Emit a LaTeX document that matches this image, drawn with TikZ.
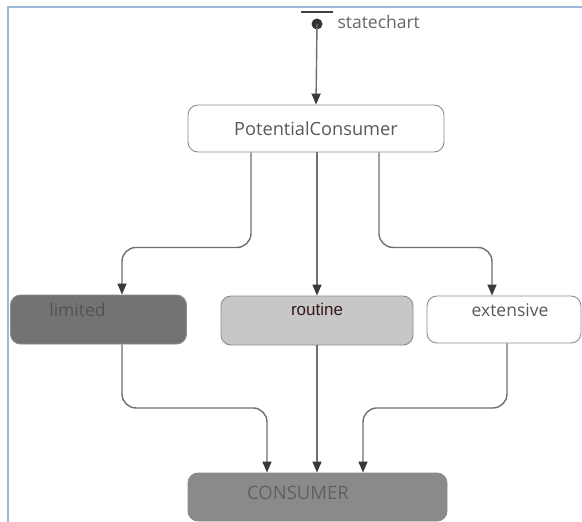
\documentclass[tikz,border=0pt]{standalone}
\usepackage{fontspec}
\setmainfont{Open Sans}
\newfontfamily\arialfont{Liberation Sans}
\usetikzlibrary{arrows.meta}
\definecolor{frameblue}{HTML}{9DB9DA}
\definecolor{linegray}{HTML}{6F6F6F}
\definecolor{tipgray}{HTML}{3A3A3A}
\definecolor{boxedge}{HTML}{8C8C8C}
\tikzset{
  state/.style={draw=boxedge, line width=0.9pt, rounded corners=10pt, inner sep=0pt},
  conn/.style={draw=linegray, line width=1.4pt, rounded corners=14pt,
    -{Triangle[length=11pt,width=9pt,fill=tipgray,color=tipgray]}},
  lbl/.style={font=\fontsize{17.5}{21}\selectfont, text=#1},
}
\begin{document}
\begin{tikzpicture}[x=1pt,y=-1pt]
  \useasboundingbox (0,0) rectangle (582,522);
  \fill[white] (0,0) rectangle (582,522);
  % window frame
  \draw[frameblue, line width=2pt] (8,523) -- (8,7) -- (583,7);

  % initial pseudostate
  \draw[black!75, line width=2.2pt] (301,12) -- (333,12);
  \fill[black!80] (317,24) circle (5.5);
  \node[coordinate] (init) at (317,24) {};
  \node[lbl=black!60, anchor=west] (chartname) at (334,22) {statechart};

  % states
  \node[state, fill=white, minimum width=256pt, minimum height=47pt,
        lbl=black!65, font=\fontsize{18.2}{22}\selectfont] (pc) at (316,128.5) {PotentialConsumer};
  \node[state, fill=black!55, minimum width=176pt, minimum height=49pt,
        label={[lbl=black!68, xshift=-21pt, yshift=10pt]center:limited}] (lim) at (98.5,319.5) {};
  \node[state, fill=black!22, minimum width=192pt, minimum height=49pt,
        label={[font=\arialfont\fontsize{17}{20}\selectfont, text={rgb,255:red,55;green,25;blue,25}, yshift=11.5pt]center:routine}] (rou) at (317,320.5) {};
  \node[state, fill=white, minimum width=154pt, minimum height=47pt,
        label={[lbl=black!65, xshift=6pt, yshift=9.5pt]center:extensive}] (ext) at (504,319.5) {};
  \node[state, fill=black!46, minimum width=259pt, minimum height=48pt,
        label={[lbl=black!62, font=\fontsize{18.5}{22}\selectfont, xshift=-19.5pt, yshift=4pt]center:CONSUMER}] (con) at (317.5,497) {};

  % transitions
  \draw[conn] (init) -- (pc.north);
  \draw[conn] ([xshift=-65pt]pc.south) -- ++(0,95) -| ([xshift=23.5pt]lim.north);
  \draw[conn] ([xshift=1pt]pc.south) -- (rou.north);
  \draw[conn] ([xshift=63pt]pc.south) -- ++(0,95) -| ([xshift=-12pt]ext.north);
  \draw[conn] ([xshift=23.5pt]lim.south) -- ++(0,63.5) -| ([xshift=-50.5pt]con.north);
  \draw[conn] (rou.south) -- (con.north -| rou.south);
  \draw[conn] ([xshift=3pt]ext.south) -- ++(0,64.5) -| ([xshift=45.5pt]con.north);
\end{tikzpicture}
\end{document}
